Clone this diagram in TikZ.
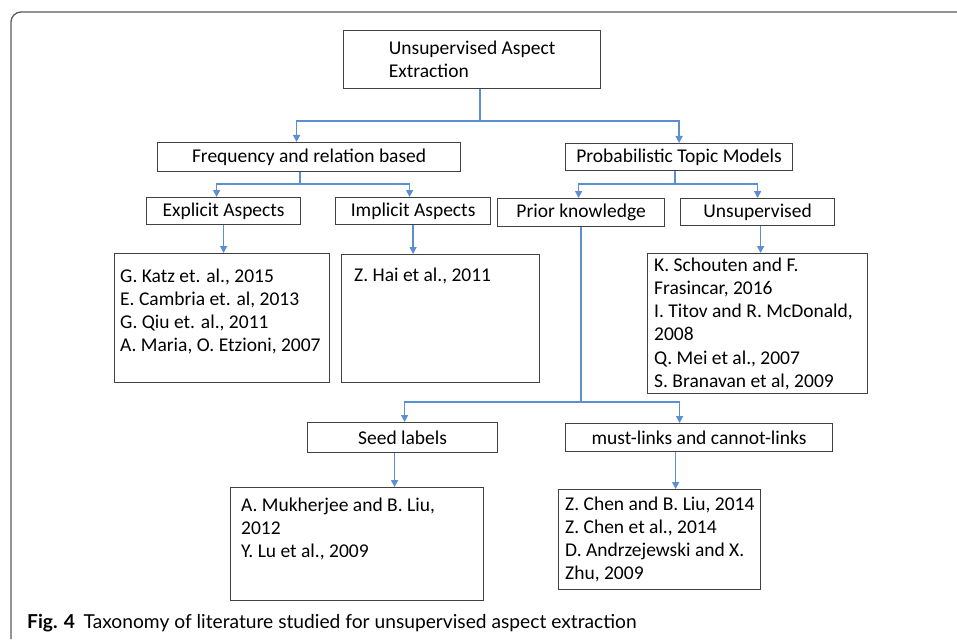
\documentclass[tikz,border=0pt]{standalone}
\usepackage{fontspec}
\setmainfont{Carlito}
\newfontfamily\captionfont{Lato}
\usepackage{xcolor}
\usetikzlibrary{arrows.meta, positioning, calc}

\definecolor{linkblue}{HTML}{5B8FD2}
\definecolor{framegray}{HTML}{5A5A5A}
\definecolor{boxgray}{HTML}{404040}

% first line of a literature list sits on the node's base
\newcommand{\reflist}[1]{\parbox[t]{260pt}{#1}}

\begin{document}
\begin{tikzpicture}[
        x=1pt, y=-1pt,
        >={Triangle[length=7pt, width=7pt]},
        box/.style={draw=boxgray, line width=1.2pt, rectangle, anchor=north west,
                    inner sep=0pt, font=\fontsize{19.5}{23.3}\selectfont},
        reftext/.style={anchor=base west, inner sep=0pt,
                    font=\fontsize{19.5}{23.3}\selectfont},
        link/.style={draw=linkblue, line width=1.3pt},
        arrow/.style={link, ->}
        ]
        \useasboundingbox (0,0) rectangle (957,639);

        % Frame
        \draw[framegray, line width=1.3pt, rounded corners=10pt] (957,12) -- (11,12) -- (11,639);

        % Boxes
        \node[box, minimum width=257, minimum height=58, align=left] (root) at (343,30)
            {Unsupervised Aspect\\Extraction};
        \node[box, minimum width=303, minimum height=29] (freq) at (157,142) {Frequency and relation based};
        \node[box, minimum width=227, minimum height=27] (prob) at (565,143) {Probabilistic Topic Models};
        \node[box, minimum width=154, minimum height=27] (explicit) at (146,197) {Explicit Aspects};
        \node[box, minimum width=155, minimum height=27] (implicit) at (335,197) {Implicit Aspects};
        \node[box, minimum width=167, minimum height=28] (prior) at (497,198) {Prior knowledge};
        \node[box, minimum width=154, minimum height=27] (unsup) at (680,198) {Unsupervised};
        \node[box, minimum width=190, minimum height=30] (seed) at (307,422) {Seed labels};
        \node[box, minimum width=267, minimum height=28] (must) at (565,423) {must-links and cannot-links};

        % Literature boxes
        \node[box, minimum width=215, minimum height=129] (katzbox) at (114,253) {};
        \node[box, minimum width=198, minimum height=128] (haibox) at (341,254) {};
        \node[box, minimum width=220, minimum height=140] (schoutenbox) at (647,253) {};
        \node[box, minimum width=253, minimum height=113] (mukherjeebox) at (230,487) {};
        \node[box, minimum width=202, minimum height=100] (chenbox) at (558,489) {};

        \node[reftext] (katz) at ([shift={(6,29)}]katzbox.north west)
            {\reflist{G. Katz et. al., 2015\\E. Cambria et. al, 2013\\G. Qiu et. al., 2011\\A. Maria, O. Etzioni, 2007}};
        \node[reftext] (hai) at ([shift={(13,27)}]haibox.north west) {Z. Hai et al., 2011};
        \node[reftext] (schouten) at ([shift={(7,18)}]schoutenbox.north west)
            {\reflist{K. Schouten and F.\\Frasincar, 2016\\I. Titov and R. McDonald,\\2008\\Q. Mei et al., 2007\\S. Branavan et al, 2009}};
        \node[reftext] (mukherjee) at ([shift={(11,24)}]mukherjeebox.north west)
            {\reflist{A. Mukherjee and B. Liu,\\2012\\Y. Lu et al., 2009}};
        \node[reftext] (chen) at ([shift={(7,21)}]chenbox.north west)
            {\reflist{Z. Chen and B. Liu, 2014\\Z. Chen et al., 2014\\D. Andrzejewski and X.\\Zhu, 2009}};

        % Junctions
        \coordinate (j1) at (480,121);
        \coordinate (j2) at (300,184);
        \coordinate (j3) at (675,184);
        \coordinate (j4) at (581,402);

        % Connectors
        \draw[link] (root.south -| j1) -- (j1);
        \draw[arrow] (j1) -| ([xshift=-12.5]freq.north);
        \draw[arrow] (j1) -| (prob.north);

        \draw[link] (freq.south -| j2) -- (j2);
        \draw[arrow] (j2) -| ([xshift=-7]explicit.north);
        \draw[arrow] (j2) -| ([xshift=-3.5]implicit.north);

        \draw[link] (prob.south -| j3) -- (j3);
        \draw[arrow] (j3) -| ([xshift=-2.5]prior.north);
        \draw[arrow] (j3) -| (unsup.north);

        \draw[arrow] (explicit.south) -- (explicit.south |- katzbox.north);
        \draw[arrow] (implicit.south) -- (implicit.south |- haibox.north);
        \draw[arrow] ([xshift=3]unsup.south) -- ([xshift=3]unsup.south |- schoutenbox.north);

        \draw[link] (prior.south -| j4) -- (j4);
        \draw[arrow] (j4) -| ([xshift=2]seed.north);
        \draw[arrow] (j4) -| ([xshift=-19.5]must.north);

        \draw[arrow] ([xshift=-8]seed.south) -- ([xshift=-8]seed.south |- mukherjeebox.north);
        \draw[arrow] ([xshift=-23.5]must.south) -- ([xshift=-23.5]must.south |- chenbox.north);

        % Caption
        \node[anchor=base west, inner sep=0pt, font=\captionfont\fontsize{19.2}{22}\selectfont] (caption) at (27,628)
            {\textbf{Fig. 4}\hspace{0.45em}Taxonomy of literature studied for unsupervised aspect extraction};

    \end{tikzpicture}
\end{document}
